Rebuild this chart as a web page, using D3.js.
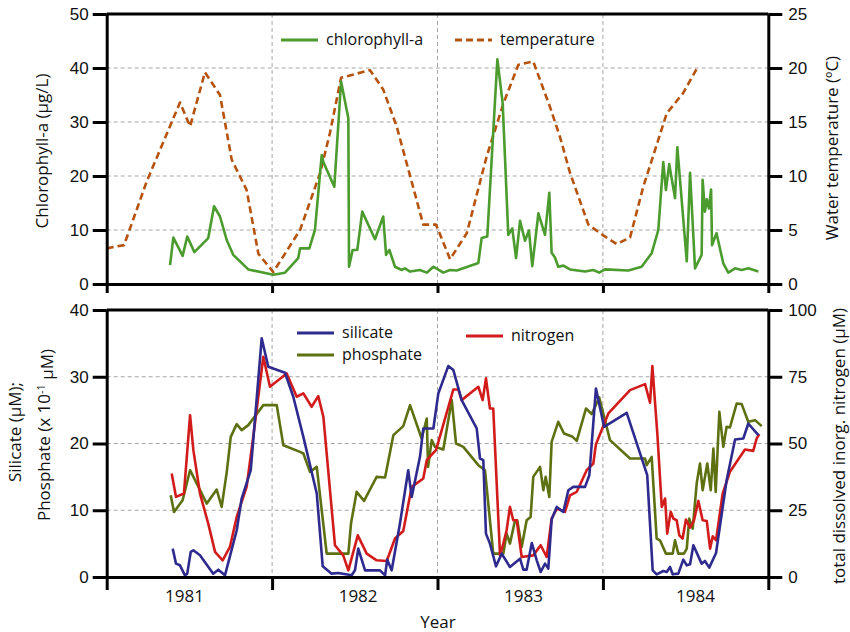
<!DOCTYPE html>
<html lang="en">
<head>
	<meta charset="UTF-8">
	<title>Lake nutrients</title>
	<script src="https://cdn.jsdelivr.net/npm/d3@7"></script>
	<style>
		body{ margin:0; background:#fff; }
		svg{ display:block; font-family:"Open Sans", sans-serif; }
		.grid line{ stroke:#a6a6a6; stroke-dasharray:4,3; stroke-width:1; }
		.ax path, .ax line{ stroke:#000; stroke-width:3; }
		.ax text{ font-size:17px; fill:#111; }
		.lbl{ font-size:17px; fill:#111; }
		.leg{ font-size:16px; fill:#111; }
	</style>
</head>
<body>
	<svg id="chart" width="850" height="632"></svg>
	<script>
		// decimal years since 1981 (0 = Jan 1981)
		var years = [1981, 1982, 1983, 1984];
		var yearLabelAt = [0.47, 1.52, 2.52, 3.56];

		var tempT = [0.000,0.105,0.242,0.443,0.504,0.594,0.685,0.756,0.846,0.917,1.007,1.169,1.290,1.350,1.417,1.592,1.672,1.753,1.914,1.991,2.076,2.177,2.297,2.398,2.489,2.579,2.680,2.741,2.801,2.912,3.002,3.083,3.164,3.244,3.386,3.486,3.577];
		var tempV = [3.3,3.6,9.5,16.8,14.6,19.6,17.5,11.5,8.7,2.8,1.1,5.0,10.25,14.0,19.1,19.8,18.0,14.6,5.5,5.5,2.3,4.7,11.8,16.7,20.3,20.6,16.4,13.6,10.3,5.5,4.5,3.7,4.3,9.0,15.8,17.7,20.2];

		var chlT = [0.383,0.403,0.459,0.487,0.530,0.614,0.649,0.685,0.726,0.765,0.856,1.007,1.078,1.158,1.169,1.225,1.259,1.300,1.310,1.376,1.417,1.461,1.465,1.487,1.515,1.545,1.622,1.672,1.689,1.709,1.743,1.784,1.803,1.834,1.894,1.935,1.975,2.035,2.076,2.116,2.247,2.267,2.301,2.362,2.394,2.428,2.452,2.475,2.499,2.529,2.553,2.573,2.610,2.650,2.676,2.690,2.710,2.730,2.761,2.801,2.892,2.942,2.978,3.013,3.154,3.234,3.295,3.335,3.365,3.381,3.401,3.436,3.450,3.507,3.527,3.557,3.597,3.603,3.617,3.628,3.641,3.654,3.660,3.687,3.728,3.758,3.799,3.839,3.879,3.940];
		var chlV = [3.5,8.6,5.2,8.8,5.9,8.5,14.4,12.5,8.1,5.4,2.7,1.7,2.1,4.8,6.6,6.6,10.0,23.9,22.6,18.0,37.5,30.7,3.2,6.3,6.3,13.4,8.3,12.5,5.4,6.3,3.2,2.6,2.9,2.3,2.6,2.1,3.2,2.1,2.6,2.5,3.9,8.5,8.8,41.6,33.5,9.1,10.3,4.8,11.7,8.0,9.9,3.3,13.1,9.1,16.9,5.8,4.9,3.2,3.4,2.7,2.3,2.6,2.1,2.7,2.5,3.2,5.7,10.0,22.6,17.4,22.2,15.9,25.3,4.2,20.6,2.9,5.4,19.3,13.4,15.7,14.0,17.5,7.2,9.4,3.8,2.1,2.9,2.6,2.9,2.3];

		var silT = [0.399,0.419,0.443,0.473,0.487,0.508,0.524,0.564,0.644,0.675,0.715,0.765,0.786,0.816,0.871,0.937,0.977,1.078,1.128,1.189,1.270,1.306,1.360,1.400,1.481,1.501,1.521,1.562,1.652,1.683,1.696,1.723,1.773,1.823,1.844,1.894,1.914,1.975,2.005,2.065,2.096,2.146,2.237,2.257,2.277,2.293,2.317,2.354,2.388,2.438,2.499,2.519,2.539,2.570,2.600,2.624,2.650,2.670,2.690,2.721,2.761,2.791,2.821,2.892,2.918,2.958,3.007,3.144,3.268,3.301,3.325,3.365,3.386,3.406,3.422,3.456,3.486,3.507,3.527,3.547,3.597,3.617,3.643,3.684,3.748,3.799,3.849,3.879,3.940];
		var silV = [4.25,2.0,1.75,0.25,0.5,3.75,4.0,3.25,0.5,1.1,0.25,5.0,7.0,11.75,16.0,35.75,31.5,30.6,27.0,21.0,12.5,1.6,0.5,0.6,0.25,1.0,4.25,1.0,1.0,0.25,2.6,1.0,8.0,16.0,12.0,18.0,22.25,22.25,27.5,31.6,31.0,26.5,22.25,17.75,17.5,6.5,5.0,1.6,3.5,1.5,2.75,1.1,1.1,5.1,2.5,0.75,2.0,1.25,8.6,10.5,9.75,13.0,13.5,13.5,15.25,28.25,22.5,24.6,15.25,1.0,0.4,0.9,0.75,1.5,0.4,0.5,2.6,1.75,1.9,4.75,2.0,2.4,1.4,3.6,14.5,20.6,20.75,23.0,21.25];

		var phoT = [0.387,0.407,0.459,0.504,0.605,0.665,0.695,0.726,0.750,0.786,0.816,0.856,0.947,1.028,1.068,1.169,1.189,1.229,1.270,1.330,1.461,1.477,1.511,1.556,1.632,1.683,1.733,1.793,1.834,1.904,1.935,1.943,1.965,1.985,2.035,2.086,2.112,2.156,2.247,2.287,2.337,2.398,2.418,2.438,2.469,2.482,2.509,2.539,2.563,2.579,2.620,2.640,2.654,2.676,2.690,2.730,2.765,2.817,2.842,2.898,2.932,2.978,3.043,3.164,3.255,3.265,3.295,3.325,3.345,3.381,3.422,3.436,3.456,3.490,3.507,3.522,3.543,3.567,3.587,3.603,3.631,3.652,3.668,3.682,3.704,3.728,3.748,3.768,3.809,3.839,3.879,3.920,3.960];
		var phoV = [12.25,9.75,11.5,16.0,11.0,13.1,10.5,15.75,21.0,22.9,22.0,22.75,25.75,25.75,19.75,18.75,18.5,15.75,16.5,3.5,3.5,8.0,12.75,11.4,15.0,14.9,21.25,22.6,25.75,20.75,23.75,16.5,20.5,19.5,19.1,26.5,20.0,19.5,16.75,16.0,3.5,3.5,6.5,5.0,8.5,8.5,4.5,8.5,9.0,15.0,16.5,13.0,15.0,12.0,20.25,23.25,21.5,21.0,20.4,25.25,24.4,26.9,20.5,17.75,17.75,16.75,18.0,5.75,5.5,3.5,3.5,5.5,3.5,3.5,4.25,8.75,7.25,14.0,17.0,13.0,17.0,13.0,19.25,12.75,24.75,19.5,22.5,22.4,26.0,25.9,23.25,23.5,22.6];

		var nitT = [0.393,0.419,0.467,0.504,0.524,0.564,0.614,0.655,0.701,0.745,0.786,0.846,0.886,0.947,0.987,1.088,1.149,1.189,1.239,1.279,1.310,1.380,1.430,1.461,1.518,1.572,1.632,1.693,1.743,1.793,1.844,1.914,1.935,1.971,1.991,2.096,2.126,2.146,2.247,2.273,2.293,2.317,2.337,2.378,2.398,2.418,2.438,2.458,2.479,2.509,2.579,2.624,2.660,2.690,2.721,2.771,2.801,2.842,2.902,2.942,2.958,3.033,3.164,3.255,3.285,3.299,3.329,3.356,3.376,3.389,3.410,3.426,3.446,3.462,3.482,3.502,3.527,3.551,3.577,3.603,3.628,3.648,3.664,3.684,3.724,3.768,3.859,3.909,3.930,3.946];
		var nitV = [38.75,30.0,31.25,60.6,47.5,31.25,20.0,9.4,6.25,11.25,22.5,33.75,52.5,82.5,71.25,76.25,67.5,68.75,63.75,67.75,60.0,11.9,8.1,2.5,15.6,8.75,6.25,6.0,14.4,17.25,33.75,36.9,43.75,46.25,47.5,70.25,70.25,66.25,71.25,66.25,74.4,63.1,63.1,8.1,12.5,17.5,26.25,21.25,21.25,7.5,8.1,11.9,7.5,21.9,25.6,24.4,30.6,31.9,40.0,42.5,49.75,61.25,70.0,72.25,65.25,79.0,53.75,26.25,29.4,16.25,24.4,21.9,21.25,15.6,14.4,21.5,18.5,21.25,28.5,21.25,21.0,10.6,15.25,13.75,31.25,39.4,47.75,47.25,51.9,53.5];

		var chlTicks = [0,10,20,30,40,50],
			tempTicks = [0,5,10,15,20,25],
			leftTicks2 = [0,10,20,30,40],
			nitTicks = [0,25,50,75,100];

		var colors = {chl:"#4b9b2e", temp:"#b5530f", sil:"#2f2a8e", pho:"#5e7112", nit:"#d21c1c"};

		var svg = d3.select("#chart");
		var L = 106.7, R = 768.3;
		var p1 = {top:14, bottom:284}, p2 = {top:310, bottom:577};

		var x = d3.scaleLinear().domain([0,4]).range([L,R]);
		var yChl = d3.scaleLinear().domain([0,50]).range([p1.bottom,p1.top]);
		var yTemp = d3.scaleLinear().domain([0,25]).range([p1.bottom,p1.top]);
		var ySil = d3.scaleLinear().domain([0,40]).range([p2.bottom,p2.top]);
		var yNit = d3.scaleLinear().domain([0,100]).range([p2.bottom,p2.top]);

		function zip(t,v){ return t.map(function(d,i){ return [d,v[i]]; }); }

		function grid(p, yScale, vals){
			var g = svg.append("g").attr("class","grid");
			g.selectAll(".h").data(vals.slice(1,-1)).enter().append("line")
				.attr("x1",L).attr("x2",R)
				.attr("y1",d=>yScale(d)).attr("y2",d=>yScale(d));
			g.selectAll(".v").data([1,2,3]).enter().append("line")
				.attr("x1",d=>x(d)).attr("x2",d=>x(d))
				.attr("y1",p.top).attr("y2",p.bottom);
		}
		grid(p1, yChl, chlTicks);
		grid(p2, ySil, leftTicks2);

		function line(yScale, t, v, col, dash){
			svg.append("path").datum(zip(t,v))
				.attr("fill","none").attr("stroke",col).attr("stroke-width",2.6)
				.attr("stroke-linejoin","round")
				.attr("stroke-dasharray",dash||null)
				.attr("d",d3.line().x(d=>x(d[0])).y(d=>yScale(d[1])));
		}
		line(yTemp, tempT, tempV, colors.temp, "7,4");
		line(yChl, chlT, chlV, colors.chl);
		line(ySil, phoT, phoV, colors.pho);
		line(yNit, nitT, nitV, colors.nit);
		line(ySil, silT, silV, colors.sil);

		// axes
		function axes(p, yl, yr, lt, rt, bt){
			svg.append("g").attr("class","ax").attr("transform","translate("+L+",0)")
				.call(d3.axisLeft(yl).tickValues(lt).tickSize(14).tickSizeOuter(0).tickPadding(4));
			svg.append("g").attr("class","ax").attr("transform","translate("+R+",0)")
				.call(d3.axisRight(yr).tickValues(rt).tickSize(14).tickSizeOuter(0).tickPadding(6));
			svg.append("g").attr("class","ax").attr("transform","translate(0,"+p.bottom+")")
				.call(d3.axisBottom(x).tickValues([0,1,2,3,4]).tickSize(bt).tickSizeOuter(0).tickFormat(""));
			svg.append("line").attr("x1",L).attr("x2",R).attr("y1",p.top).attr("y2",p.top)
				.attr("stroke","#000").attr("stroke-width",3);
		}
		axes(p1, yChl, yTemp, chlTicks, tempTicks, 9);
		axes(p2, ySil, yNit, leftTicks2, nitTicks, 13);

		svg.selectAll(".yr").data(years).enter().append("text").attr("class","lbl")
			.attr("x",(d,i)=>x(yearLabelAt[i])).attr("y",602)
			.attr("text-anchor","middle").text(d=>d);

		svg.append("text").attr("class","lbl").attr("x",438).attr("y",628)
			.attr("text-anchor","middle").text("Year");

		function vlabel(cx, cy, txt, rot){
			return svg.append("text").attr("class","lbl")
				.attr("transform","translate("+cx+","+cy+") rotate("+(rot||-90)+")")
				.attr("text-anchor","middle").attr("dy","0.35em").text(txt);
		}
		vlabel(42,151,"Chlorophyll-a (µg/L)");
		vlabel(832,148,"Water temperature (ºC)");
		vlabel(15,432,"Silicate (µM);");
		var ph = vlabel(44,435,"");
		ph.append("tspan").text("Phosphate (x 10");
		ph.append("tspan").attr("dy","-0.45em").attr("font-size","11px").text("-1");
		ph.append("tspan").attr("dy","0.45em").text(" µM)");
		vlabel(839,446,"total dissolved inorg. nitrogen (µM)");

		// legends
		function legend(x1, y, col, txt, dash){
			svg.append("line").attr("x1",x1).attr("x2",x1+37).attr("y1",y).attr("y2",y)
				.attr("stroke",col).attr("stroke-width",3).attr("stroke-dasharray",dash||null);
			svg.append("text").attr("class","leg").attr("x",x1+45).attr("y",y).attr("dy","0.33em").text(txt);
		}
		legend(281, 40, colors.chl, "chlorophyll-a");
		legend(455, 40, colors.temp, "temperature", "7,4");
		legend(297, 333, colors.sil, "silicate");
		legend(297, 355, colors.pho, "phosphate");
		legend(466, 336, colors.nit, "nitrogen");
	</script>
</body>
</html>
